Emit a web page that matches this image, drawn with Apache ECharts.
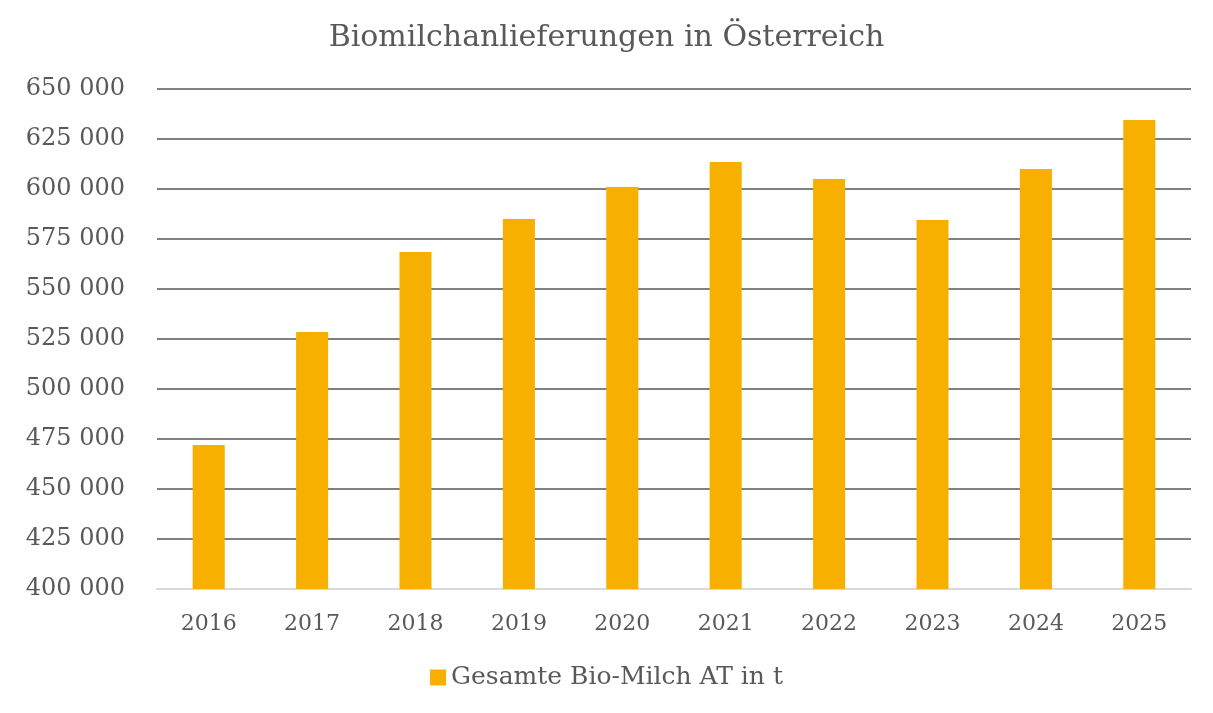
<!DOCTYPE html>
<html>
<head>
    <meta charset="utf-8">
    <script src="https://cdn.jsdelivr.net/npm/echarts@6/dist/echarts.min.js"></script>
    <style>
        *{
            margin:0;
            padding:0;
        }
        body{ background:#fff; }
    </style>
</head>
<body>
    <div id="main" style="width: 1213px;height:713px;"></div>
    <script type="text/javascript">

    var years = ['2016','2017','2018','2019','2020','2021','2022','2023','2024','2025'];
    var bioMilch = [472000, 528500, 568500, 585000, 601000, 613500, 605000, 584500, 610000, 634500];
    var seriesName = 'Gesamte Bio-Milch AT in t';
    var chartTitle = 'Biomilchanlieferungen in Österreich';

    var fontFam = '"DejaVu Serif", "Liberation Serif", serif';
    var textColor = '#595959';

    var myChart = echarts.init(document.getElementById('main'));

    myChart.setOption({
        animation: false,
        title: {
            text: chartTitle,
            left: 'center',
            top: 18,
            textStyle: {
                fontFamily: fontFam,
                fontWeight: 'normal',
                fontSize: 30,
                color: textColor
            }
        },
        legend: {
            bottom: 18,
            left: 'center',
            itemWidth: 16,
            itemHeight: 16,
            itemGap: 8,
            icon: 'rect',
            textStyle: {
                fontFamily: fontFam,
                fontSize: 25,
                color: textColor
            },
            data: [seriesName]
        },
        grid: {
            left: 157,
            right: 22,
            top: 89,
            bottom: 124
        },
        xAxis: {
            type: 'category',
            data: years,
            axisLine: {
                lineStyle: { color: '#d9d9d9', width: 2 }
            },
            axisTick: { show: false },
            axisLabel: {
                margin: 24,
                fontFamily: fontFam,
                fontSize: 22,
                color: textColor
            }
        },
        yAxis: {
            type: 'value',
            min: 400000,
            max: 650000,
            interval: 25000,
            axisLine: { show: false },
            axisTick: { show: false },
            splitLine: {
                lineStyle: { color: '#808080', width: 2 }
            },
            axisLabel: {
                margin: 32,
                fontFamily: fontFam,
                fontSize: 24,
                color: textColor,
                formatter: function (v) {
                    return String(v).replace(/\B(?=(\d{3})+(?!\d))/g, ' ');
                }
            }
        },
        series: [
            {
                name: seriesName,
                type: 'bar',
                barWidth: '31%',
                itemStyle: { color: '#F8B000' },
                data: bioMilch
            }
        ]
    });
</script>
</body>
</html>
